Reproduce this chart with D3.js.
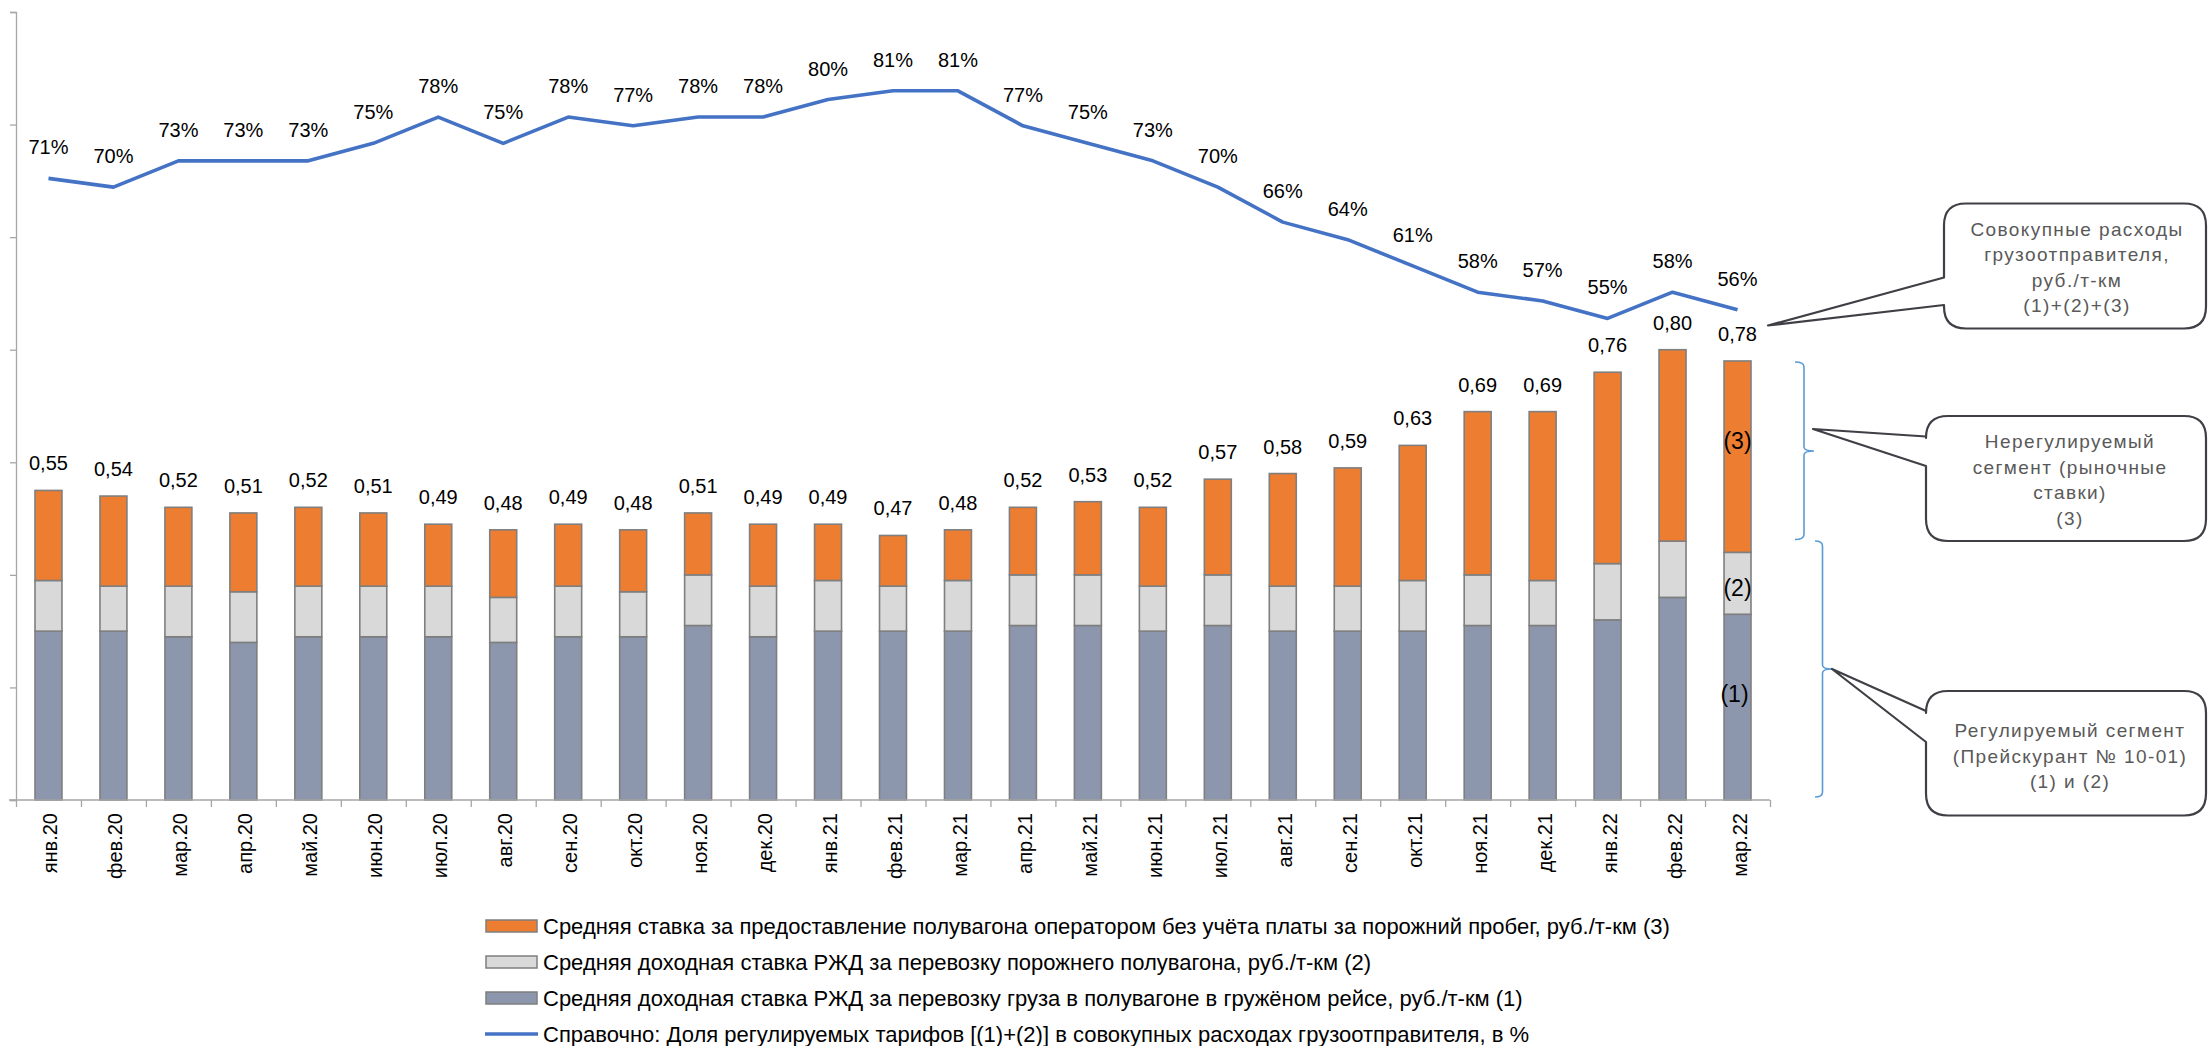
<!DOCTYPE html>
<html><head><meta charset="utf-8">
<script src="https://cdn.jsdelivr.net/npm/d3@7"></script>
<style>
html,body{margin:0;padding:0;background:#fff;}
svg{display:block;}
</style></head>
<body>
<svg id="chart" width="2208" height="1046"></svg>
<script>
const months = ["янв.20","фев.20","мар.20","апр.20","май.20","июн.20","июл.20","авг.20","сен.20","окт.20","ноя.20","дек.20",
  "янв.21","фев.21","мар.21","апр.21","май.21","июн.21","июл.21","авг.21","сен.21","окт.21","ноя.21","дек.21",
  "янв.22","фев.22","мар.22"];
// (1) RZD rate, loaded trip
const seg1 = [0.30,0.30,0.29,0.28,0.29,0.29,0.29,0.28,0.29,0.29,0.31,0.29,0.30,0.30,0.30,0.31,0.31,0.30,0.31,0.30,0.30,0.30,0.31,0.31,0.32,0.36,0.33];
// (2) RZD rate, empty wagon
const seg2 = [0.09,0.08,0.09,0.09,0.09,0.09,0.09,0.08,0.09,0.08,0.09,0.09,0.09,0.08,0.09,0.09,0.09,0.08,0.09,0.08,0.08,0.09,0.09,0.08,0.10,0.10,0.11];
// (3) operator rate
const seg3 = [0.16,0.16,0.14,0.14,0.14,0.13,0.11,0.12,0.11,0.11,0.11,0.11,0.10,0.09,0.09,0.12,0.13,0.14,0.17,0.20,0.21,0.24,0.29,0.30,0.34,0.34,0.34];
// share of regulated tariffs, %
const share = [71,70,73,73,73,75,78,75,78,77,78,78,80,81,81,77,75,73,70,66,64,61,58,57,55,58,56];
const yTicks = [0,0.2,0.4,0.6,0.8,1.0,1.2,1.4];
const legendLabels = [
  "Средняя ставка за предоставление полувагона оператором без учёта платы за порожний пробег, руб./т-км (3)",
  "Средняя доходная ставка РЖД за перевозку порожнего полувагона, руб./т-км (2)",
  "Средняя доходная ставка РЖД за перевозку груза в полувагоне в гружёном рейсе, руб./т-км (1)",
  "Справочно: Доля регулируемых тарифов [(1)+(2)] в совокупных расходах грузоотправителя, в %"
];
const segLabels = ["(1)","(2)","(3)"];
const callouts = [
  {lines:["Совокупные расходы","грузоотправителя,","руб./т-км","(1)+(2)+(3)"]},
  {lines:["Нерегулируемый","сегмент (рыночные","ставки)","(3)"]},
  {lines:["Регулируемый сегмент","(Прейскурант № 10-01)","(1) и (2)"]}
];

const colors = {s1:"#8C96AD", s2:"#D9D9D9", s3:"#ED7D31", line:"#4472C4"};
const FONT = "'Liberation Sans', Arial, sans-serif";

const svg = d3.select("#chart");
const X0 = 16, X1 = 1770, Y0 = 800, Y1 = 12;

const x = d3.scaleBand().domain(months).range([X0, X1]).paddingInner(0.585).paddingOuter(0.2925);
const xi = d3.scaleLinear().domain([0, months.length]).range([X0, X1]);
const y = d3.scaleLinear().domain([0, 1.4]).range([Y0, Y1]);
const yp = d3.scaleLinear().domain([0, 90]).range([Y0, Y1]);

const rows = months.map((m,i)=>({m, s1:seg1[i], s2:seg2[i], s3:seg3[i]}));
const stack = d3.stack().keys(["s1","s2","s3"])(rows);

// bars
svg.append("g").selectAll("g").data(stack).join("g")
  .attr("fill", d=>colors[d.key])
  .selectAll("rect").data(d=>d).join("rect")
  .attr("x", d=>x(d.data.m))
  .attr("width", x.bandwidth())
  .attr("y", d=>y(d[1]))
  .attr("height", d=>y(d[0])-y(d[1]))
  .attr("stroke","#7F7F7F").attr("stroke-width",1.6);

// y axis (no labels)
const ya = svg.append("g").attr("transform",`translate(${X0},0)`)
  .call(d3.axisLeft(y).tickValues(yTicks).tickSize(6).tickFormat(""));
ya.select(".domain").attr("stroke","#A6A6A6").attr("stroke-width",1.3);
ya.selectAll(".tick line").attr("stroke","#A6A6A6").attr("stroke-width",1.3);

// x axis: boundary ticks
const xa = svg.append("g").attr("transform",`translate(0,${Y0})`)
  .call(d3.axisBottom(xi).tickValues(d3.range(months.length+1)).tickSize(7).tickSizeOuter(0).tickFormat(""));
xa.select(".domain").attr("stroke","#A6A6A6").attr("stroke-width",1.3).attr("d",`M${X0-7},0H${X1}`);
xa.selectAll(".tick line").attr("stroke","#A6A6A6").attr("stroke-width",1.3);

// x labels
const xl = svg.append("g").attr("transform",`translate(0,${Y0})`)
  .call(d3.axisBottom(x).tickSize(0));
xl.select(".domain").remove();
xl.selectAll("text")
  .attr("transform","rotate(-90)")
  .attr("text-anchor","end")
  .attr("x",-13).attr("y",9).attr("dy",null)
  .attr("font-family",FONT).attr("font-size",20).attr("fill","#000");

// bar total labels
const fmt = d3.format(".2f");
svg.append("g").selectAll("text").data(rows).join("text")
  .attr("x", d=>x(d.m)+x.bandwidth()/2)
  .attr("y", d=>y(d.s1+d.s2+d.s3)-20)
  .attr("text-anchor","middle")
  .attr("font-family",FONT).attr("font-size",20).attr("fill","#000")
  .text(d=>fmt(d.s1+d.s2+d.s3).replace(".",","));

// line
const line = d3.line().x((d,i)=>x(months[i])+x.bandwidth()/2).y(d=>yp(d));
svg.append("path").datum(share).attr("d",line)
  .attr("fill","none").attr("stroke",colors.line).attr("stroke-width",3.6).attr("stroke-linejoin","round");
svg.append("g").selectAll("text").data(share).join("text")
  .attr("x",(d,i)=>x(months[i])+x.bandwidth()/2)
  .attr("y",d=>yp(d)-24)
  .attr("text-anchor","middle")
  .attr("font-family",FONT).attr("font-size",20).attr("fill","#000")
  .text(d=>d+"%");

// segment labels on last bar
const last = rows[rows.length-1];
const lcx = x(last.m)+x.bandwidth()/2;
const segMid = [ last.s1/2, last.s1+last.s2/2, last.s1+last.s2+last.s3/2 ];
const segOff = [ 0.024, -0.008, 0.028 ];
svg.append("g").selectAll("text").data(segLabels).join("text")
  .attr("x",(d,i)=> lcx - (i===0?3:0))
  .attr("y",(d,i)=> y(segMid[i]+segOff[i]))
  .attr("dy","0.36em")
  .attr("text-anchor","middle")
  .attr("font-family",FONT).attr("font-size",23).attr("fill","#000")
  .text(d=>d);

// brackets
const br = svg.append("g").attr("fill","none").attr("stroke","#5B9BD5").attr("stroke-width",1.6);
function bracket(xl, xv, xt, yt, ym, yb){
  return `M${xl},${yt} Q${xv},${yt} ${xv},${yt+5} L${xv},${ym-4} Q${xv},${ym} ${xt},${ym} Q${xv},${ym} ${xv},${ym+4} L${xv},${yb-5} Q${xv},${yb} ${xl},${yb}`;
}
br.append("path").attr("d", bracket(1795,1804,1814,362,451,539.5));
br.append("path").attr("d", bracket(1815,1822.5,1832,541,669,797));

// callouts
const boxes = [
  {x0:1944,y0:203.5,x1:2206,y1:328.5, t1:277.5, tip:[1768,325.5], t2:305, cx:2077, ly:[229,254.5,280,305.5]},
  {x0:1926,y0:416,x1:2206,y1:541, t1:436.5, tip:[1813,429], t2:466, cx:2070, ly:[441,467,492.5,518.5]},
  {x0:1926,y0:691,x1:2206,y1:815.5, t1:711, tip:[1832,669], t2:742, cx:2070, ly:[730,756,781]}
];
function calloutPath(b){
  const r=22;
  return `M${b.x0},${b.t1} L${b.tip[0]},${b.tip[1]} L${b.x0},${b.t2} L${b.x0},${b.y1-r} Q${b.x0},${b.y1} ${b.x0+r},${b.y1} L${b.x1-r},${b.y1} Q${b.x1},${b.y1} ${b.x1},${b.y1-r} L${b.x1},${b.y0+r} Q${b.x1},${b.y0} ${b.x1-r},${b.y0} L${b.x0+r},${b.y0} Q${b.x0},${b.y0} ${b.x0},${b.y0+r} Z`;
}
const cg = svg.append("g");
boxes.forEach((b,k)=>{
  cg.append("path").attr("d",calloutPath(b)).attr("fill","#fff").attr("stroke","#3F3F46").attr("stroke-width",2.2).attr("stroke-linejoin","round");
  cg.append("g").selectAll("text").data(callouts[k].lines).join("text")
    .attr("x",b.cx).attr("y",(d,i)=>b.ly[i]).attr("dy","0.36em")
    .attr("text-anchor","middle").attr("font-family",FONT).attr("font-size",19)
    .attr("letter-spacing","1.4px").attr("fill","#595959")
    .text(d=>d);
});

// legend
const lg = svg.append("g");
const rowsY = [926, 962, 998, 1034];
const swatch = [colors.s3, colors.s2, colors.s1];
legendLabels.forEach((t,i)=>{
  if(i<3){
    lg.append("rect").attr("x",486).attr("y",rowsY[i]-6).attr("width",51).attr("height",12)
      .attr("fill",swatch[i]).attr("stroke","#7F7F7F").attr("stroke-width",1.5);
  } else {
    lg.append("line").attr("x1",485).attr("x2",538).attr("y1",rowsY[i]).attr("y2",rowsY[i])
      .attr("stroke",colors.line).attr("stroke-width",3.6);
  }
  lg.append("text").attr("x",543).attr("y",rowsY[i]).attr("dy","0.36em")
    .attr("font-family",FONT).attr("font-size",22).attr("fill","#000").text(t);
});
</script>
</body></html>
